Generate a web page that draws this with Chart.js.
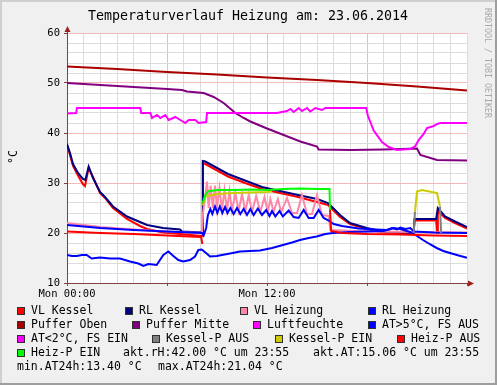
<!DOCTYPE html>
<html>
<head>
<meta charset="utf-8">
<script src="https://cdn.jsdelivr.net/npm/chart.js@4"></script>
<style>
html, body { margin: 0; padding: 0; background: #f0f0f0; }
canvas { display: block; }
</style>
</head>
<body>
<canvas id="chart" width="497" height="385"></canvas>
<script>
// values, [hour of day, °C]
const vlKessel = [[0,37.6],[0.18,35.6],[0.36,33.4],[0.66,31.5],[0.95,29.8],[1.08,29.4],[1.3,33.0],[1.56,31.2],[1.98,28.0],[2.28,27.0],[2.76,25.0],[3.6,22.8],[4.38,21.4],[4.8,20.8],[5.76,20.1],[6.78,19.8],[8.1,19.4],[8.15,34.0],[8.3,33.8],[9.66,31.3],[10.68,30.0],[11.7,28.8],[13.86,27.2],[15.66,25.6],[15.96,24.6],[16.38,23.2],[16.98,21.8],[17.98,20.8],[18.96,20.1],[20.8,19.9],[20.85,22.5],[22.15,22.5],[22.2,20.0],[22.25,24.4],[22.68,23.0],[23.28,22.0],[24,20.9]];
const rlKessel = [[0,37.8],[0.18,36.0],[0.36,33.8],[0.66,32.0],[0.95,30.8],[1.1,30.6],[1.3,33.3],[1.56,31.0],[1.98,28.2],[2.28,27.2],[2.76,25.3],[3.6,23.3],[4.38,22.2],[4.8,21.6],[5.76,21.0],[6.78,20.7],[6.9,20.3],[8.1,20.1],[8.15,34.4],[8.3,34.3],[9.66,31.8],[10.68,30.5],[11.7,29.2],[12.5,28.6],[13.86,27.6],[15.0,26.8],[15.66,26.0],[15.96,25.0],[16.38,23.6],[16.98,22.0],[17.98,21.0],[18.96,20.3],[20.8,20.0],[20.85,22.8],[22.15,22.8],[22.25,25.0],[22.68,23.3],[23.28,22.3],[24,21.2]];
const vlHeizung = [[0,22.0],[2,21.2],[4,20.7],[6,20.3],[8.1,20.0],[8.16,24.0],[8.28,27.0],[8.4,30.3],[8.5,25.0],[8.62,29.5],[8.75,25.0],[8.88,29.5],[9.0,25.0],[9.15,29.0],[9.3,24.6],[9.45,28.6],[9.6,24.6],[9.75,28.4],[9.9,24.4],[10.1,28.0],[10.3,24.4],[10.5,27.8],[10.7,24.3],[10.9,27.6],[11.1,24.2],[11.35,27.4],[11.6,24.2],[11.85,27.2],[12.05,24.1],[12.2,26.8],[12.4,24.2],[12.65,26.8],[12.85,24.2],[13.2,27.0],[13.5,24.0],[13.8,24.0],[14.1,27.6],[14.4,23.8],[14.7,23.8],[15.0,27.6],[15.3,23.6],[15.7,23.4],[15.8,20.6],[18,20.3],[21,20.2],[24,20.1]];
const rlHeizung = [[0,21.6],[2,21.0],[4,20.6],[6,20.3],[8.1,20.0],[8.2,19.5],[8.35,21.0],[8.45,23.5],[8.6,24.8],[8.72,23.8],[8.88,25.3],[9.02,24.0],[9.17,25.3],[9.32,24.0],[9.48,25.2],[9.63,24.0],[9.8,25.0],[10.0,23.8],[10.2,25.0],[10.4,23.8],[10.6,24.8],[10.8,23.6],[11.0,24.8],[11.2,23.6],[11.45,24.9],[11.7,23.6],[11.95,24.6],[12.15,23.4],[12.3,24.4],[12.5,23.3],[12.75,24.4],[12.95,23.3],[13.3,24.5],[13.6,23.2],[13.9,23.0],[14.2,24.6],[14.5,23.0],[14.8,23.0],[15.1,24.6],[15.4,23.0],[15.7,22.5],[16.0,21.8],[16.5,21.4],[17.5,20.9],[18.5,20.7],[19.2,20.6],[19.5,21.0],[19.8,20.7],[20.0,21.1],[20.3,20.8],[20.6,21.0],[20.8,20.3],[22,20.1],[24,20.0]];
const pufferOben = [[0,53.3],[3,52.8],[6,52.2],[9,51.7],[12,51.1],[15,50.6],[18,50.0],[21,49.3],[24,48.5]];
const pufferMitte = [[0,50.0],[2,49.6],[4,49.2],[6,48.8],[6.9,48.6],[7.2,48.3],[8.2,48.0],[8.8,47.2],[9.4,46.0],[10.1,44.0],[10.6,43.0],[11,42.3],[12,40.9],[13,39.6],[14,38.3],[15,37.3],[15.1,36.7],[17,36.6],[19,36.7],[21,36.9],[21.2,35.6],[22.2,34.6],[24,34.5]];
const luftfeuchte = [[0,43.9],[0.55,44.0],[0.6,45.0],[4.4,45.0],[4.45,44.0],[5.0,44.0],[5.1,43.0],[5.4,43.6],[5.6,43.0],[5.9,43.6],[6.1,42.6],[6.5,43.2],[6.8,42.6],[7.1,42.0],[7.3,42.6],[7.7,42.6],[7.9,42.0],[8.35,42.2],[8.4,44.0],[12.6,44.0],[13.2,44.4],[13.4,44.8],[13.6,44.2],[13.9,45.0],[14.1,44.4],[14.4,45.0],[14.6,44.3],[14.9,45.0],[15.3,44.6],[15.5,45.0],[17.95,45.0],[18.05,43.5],[18.4,40.5],[18.9,38.2],[19.3,37.2],[19.8,36.6],[20.6,36.8],[20.9,37.4],[21.1,38.6],[21.4,39.8],[21.6,41.0],[22.0,41.4],[22.2,41.8],[22.4,42.0],[24,42.0]];
const atAussen = [[0,15.6],[0.3,15.4],[0.58,15.4],[0.9,15.6],[1.18,15.6],[1.48,14.9],[1.98,15.1],[2.58,14.9],[3.18,14.9],[3.78,14.3],[4.28,13.9],[4.58,13.4],[4.88,13.8],[5.38,13.6],[5.78,15.6],[6.08,16.3],[6.38,15.4],[6.68,14.6],[6.98,14.3],[7.38,14.6],[7.68,15.3],[7.88,16.6],[8.08,16.7],[8.38,15.9],[8.58,15.3],[8.98,15.4],[9.78,15.9],[10.38,16.3],[10.98,16.4],[11.58,16.5],[12.3,17.0],[12.96,17.6],[13.5,18.1],[13.98,18.6],[14.5,19.0],[14.98,19.3],[15.5,19.8],[15.96,20.0],[17,20.2],[18,20.3],[19,20.4],[19.6,21.0],[20,20.8],[20.58,20.2],[21.0,19.4],[21.36,18.6],[21.8,17.7],[22.18,17.0],[22.58,16.4],[22.98,16.0],[23.5,15.5],[24,15.06]];
const atFrost = [];
const kesselPAus = [[20.8,20.0],[20.88,24.3],[20.9,null],[22.38,25.3],[22.45,20.0]];
const kesselPEin = [[8.14,25.5],[8.3,27.3],[9,27.8],[10,28.0],[11,28.1],[12,28.2],[12.3,28.3],[12.35,null],[20.88,24.3],[21.0,28.3],[21.3,28.6],[22.2,28.0],[22.38,25.3]];
const heizPAus = [[0,20.3],[2,20.0],[4,19.8],[6,19.5],[8.05,19.2],[8.12,17.8],[8.15,null],[15.78,24.6],[15.85,20.4],[16.5,20.0],[18,19.8],[20,19.7],[22,19.5],[24,19.4]];
const heizPEin = [[8.14,26.0],[8.3,27.6],[8.45,28.3],[9,28.6],[10,28.6],[11,28.7],[12,28.6],[13,28.8],[14,28.9],[15,28.8],[15.75,28.8],[15.78,24.6]];

const seriesNames = ['VL Kessel', 'RL Kessel', 'VL Heizung', 'RL Heizung', 'Puffer Oben', 'Puffer Mitte', 'Luftfeuchte', 'AT>5°C, FS AUS', 'AT<2°C, FS EIN', 'Kessel-P AUS', 'Kessel-P EIN', 'Heiz-P AUS', 'Heiz-P EIN'];
const seriesColors = ['#ff0000', '#000080', '#ff88a8', '#0000ff', '#aa0000', '#800080', '#ff00ff', '#0000ff', '#ff00ff', '#808080', '#cccc00', '#ff0000', '#00ff00'];
const seriesData = [vlKessel, rlKessel, vlHeizung, rlHeizung, pufferOben, pufferMitte, luftfeuchte, atAussen, atFrost, kesselPAus, kesselPEin, heizPAus, heizPEin];

const xTickLabels = { 0: 'Mon 00:00', 12: 'Mon 12:00' };
const titleText = 'Temperaturverlauf Heizung am: 23.06.2014';
const infoLine1 = ['akt.rH:42.00 °C um 23:55', 'akt.AT:15.06 °C um 23:55'];
const infoLine2 = ['min.AT24h:13.40 °C', 'max.AT24h:21.04 °C'];

const MONO = '"DejaVu Sans Mono", monospace';
Chart.defaults.font.family = MONO;
Chart.defaults.color = '#000';

const minorGrid = '#dcdcdc';
const majorGrid = '#f2b9b9';
const axisColor = '#804040';
const arrowColor = '#9b2020';

// legend layout: [box x, row]
const legendSpots = [[17,0],[125,0],[240,0],[368,0],[17,1],[132,1],[253,1],[368,1],[17,2],[152,2],[275,2],[397,2],[17,3]];
const rowY = [311, 325, 339, 353, 367];

const rrdDecor = {
    id: 'rrdDecor',
    beforeDraw(chart) {
        const ctx = chart.ctx;
        const a = chart.chartArea;
        const w = chart.width, h = chart.height;
        ctx.save();
        ctx.fillStyle = '#f0f0f0';
        ctx.fillRect(0, 0, w, h);
        ctx.fillStyle = '#cfcfcf';
        ctx.fillRect(0, 0, w, 2);
        ctx.fillRect(0, 0, 2, h);
        ctx.fillStyle = '#9e9e9e';
        ctx.fillRect(0, h - 2, w, 2);
        ctx.fillRect(w - 2, 0, 2, h);
        ctx.fillStyle = '#ffffff';
        ctx.fillRect(a.left, a.top, a.right - a.left, a.bottom - a.top);
        ctx.restore();
    },
    afterDraw(chart) {
        const ctx = chart.ctx;
        const a = chart.chartArea;
        ctx.save();

        // axis arrows
        ctx.strokeStyle = axisColor;
        ctx.lineWidth = 1;
        ctx.beginPath();
        ctx.moveTo(a.left + 0.5, a.top);
        ctx.lineTo(a.left + 0.5, a.top - 4);
        ctx.moveTo(a.right, a.bottom + 0.5);
        ctx.lineTo(a.right + 3, a.bottom + 0.5);
        ctx.stroke();
        ctx.fillStyle = arrowColor;
        ctx.beginPath();
        ctx.moveTo(a.left + 0.5, a.top - 7);
        ctx.lineTo(a.left - 2.5, a.top - 1);
        ctx.lineTo(a.left + 3.5, a.top - 1);
        ctx.closePath();
        ctx.fill();
        ctx.beginPath();
        ctx.moveTo(a.right + 7, a.bottom + 0.5);
        ctx.lineTo(a.right + 1, a.bottom - 2.5);
        ctx.lineTo(a.right + 1, a.bottom + 3.5);
        ctx.closePath();
        ctx.fill();

        // title
        ctx.fillStyle = '#000';
        ctx.font = '13.3px ' + MONO;
        ctx.textAlign = 'center';
        ctx.textBaseline = 'middle';
        ctx.fillText(titleText, 248, 17);

        // y axis unit
        ctx.save();
        ctx.translate(14, 157);
        ctx.rotate(-Math.PI / 2);
        ctx.font = '11.5px ' + MONO;
        ctx.fillText('°C', 0, 0);
        ctx.restore();

        // watermark
        ctx.save();
        ctx.translate(487, 8);
        ctx.rotate(Math.PI / 2);
        ctx.textAlign = 'left';
        ctx.fillStyle = '#a8a8a8';
        ctx.font = '8.3px ' + MONO;
        ctx.fillText('RRDTOOL / TOBI OETIKER', 0, 0);
        ctx.restore();

        // legend
        ctx.font = '11.5px ' + MONO;
        ctx.textAlign = 'left';
        seriesNames.forEach((name, i) => {
            const [bx, row] = legendSpots[i];
            const y = rowY[row];
            ctx.fillStyle = seriesColors[i];
            ctx.fillRect(bx, y - 4, 8, 8);
            ctx.strokeStyle = '#303030';
            ctx.strokeRect(bx + 0.5, y - 3.5, 7, 7);
            ctx.fillStyle = '#000';
            ctx.fillText(name, bx + 14, y);
        });
        ctx.fillText(infoLine1[0], 123, rowY[3]);
        ctx.fillText(infoLine1[1], 313, rowY[3]);
        ctx.fillText(infoLine2[0], 17, rowY[4]);
        ctx.fillText(infoLine2[1], 158, rowY[4]);
        ctx.restore();
    }
};

const datasets = seriesData.map((pts, i) => ({
    label: seriesNames[i],
    data: pts.map(p => ({ x: p[0], y: p[1] })),
    borderColor: seriesColors[i],
    backgroundColor: seriesColors[i],
    borderWidth: 2,
    pointRadius: 0,
    tension: 0,
    spanGaps: false,
    order: seriesData.length - i
}));

new Chart(document.getElementById('chart').getContext('2d'), {
    type: 'line',
    data: { datasets: datasets },
    options: {
        responsive: false,
        animation: false,
        devicePixelRatio: 1,
        layout: { padding: { top: 33, right: 30, left: 0, bottom: 0 } },
        plugins: { legend: { display: false }, title: { display: false }, tooltip: { enabled: false } },
        scales: {
            x: {
                type: 'linear',
                min: 0,
                max: 24,
                afterFit: s => { s.height = 102; },
                ticks: {
                    stepSize: 1,
                    autoSkip: false,
                    maxRotation: 0,
                    padding: 2,
                    font: { size: 10.5 },
                    callback: v => xTickLabels[v] || ''
                },
                grid: {
                    color: c => (c.tick.value % 6 === 0 && c.tick.value < 24) ? majorGrid : minorGrid,
                    tickLength: 3,
                    tickColor: c => (c.tick.value % 6 === 0) ? axisColor : 'rgba(0,0,0,0)'
                },
                border: { color: axisColor }
            },
            y: {
                min: 10,
                max: 60,
                afterFit: s => { s.width = 67; },
                ticks: {
                    stepSize: 2,
                    autoSkip: false,
                    padding: 4,
                    font: { size: 10.5 },
                    callback: v => (v % 10 === 0 ? String(v) : '')
                },
                grid: {
                    color: c => (c.tick.value % 10 === 0) ? majorGrid : minorGrid,
                    tickLength: 3,
                    tickColor: c => (c.tick.value % 10 === 0) ? axisColor : 'rgba(0,0,0,0)'
                },
                border: { color: axisColor }
            }
        }
    },
    plugins: [rrdDecor]
});
</script>
</body>
</html>
